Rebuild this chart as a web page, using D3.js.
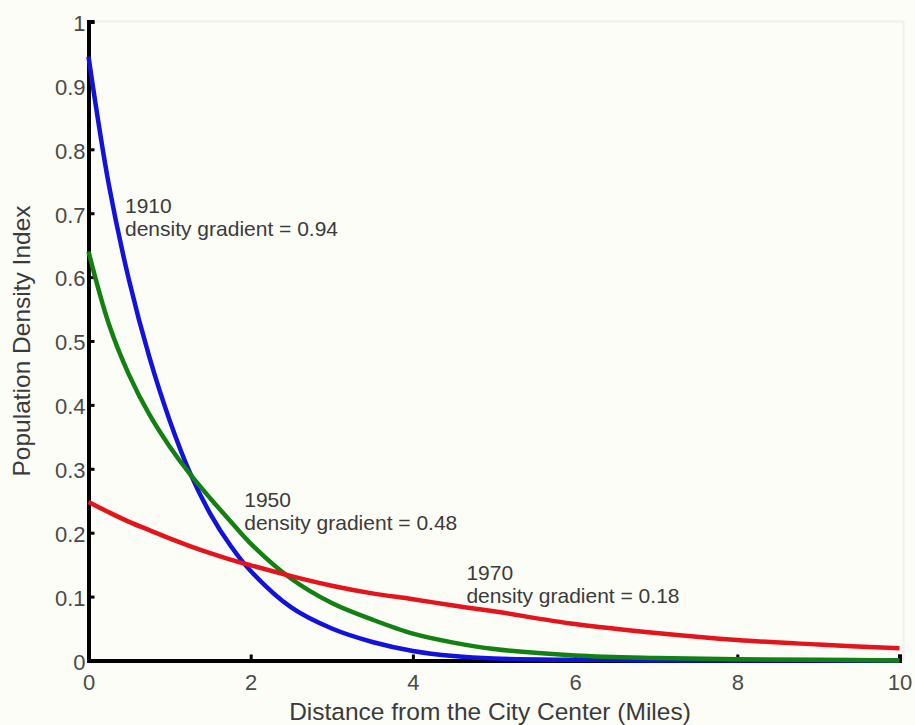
<!DOCTYPE html>
<html>
<head>
<meta charset="utf-8">
<script src="https://cdn.jsdelivr.net/npm/d3@7"></script>
<style>
  body { margin: 0; background: #fdfdf8; }
  text { font-family: "Liberation Sans", Arial, sans-serif; fill: #3a3a3a; }
</style>
</head>
<body>
<script>
const DIST = [0, 0.25, 0.5, 0.75, 1, 1.25, 1.5, 1.75, 2, 2.5, 3, 3.5, 4, 4.5, 5, 6, 7, 8, 9, 10]

// population density index per year
const Y1910 = [0.945, 0.745, 0.595, 0.475, 0.376, 0.294, 0.23, 0.18, 0.14, 0.083, 0.05, 0.029, 0.015, 0.007, 0.003, 0.001, 0, 0, 0, 0]
const Y1950 = [0.64, 0.527, 0.447, 0.385, 0.335, 0.292, 0.254, 0.218, 0.183, 0.128, 0.09, 0.064, 0.042, 0.028, 0.018, 0.008, 0.004, 0.002, 0.001, 0]
const Y1970 = [0.248, 0.232, 0.217, 0.204, 0.191, 0.179, 0.168, 0.158, 0.149, 0.132, 0.117, 0.105, 0.096, 0.086, 0.077, 0.057, 0.043, 0.032, 0.025, 0.019]

const X_TICKS = [0, 2, 4, 6, 8, 10]
const Y_TICKS = [0, 0.1, 0.2, 0.3, 0.4, 0.5, 0.6, 0.7, 0.8, 0.9, 1]

const SERIES = [
  {name: "1910", values: Y1910, color: "#1212dc"},
  {name: "1950", values: Y1950, color: "#138013"},
  {name: "1970", values: Y1970, color: "#e3141c"}
]

const NOTES = [
  {year: "1910", text: "density gradient = 0.94", x: 0.45, y: 0.70},
  {year: "1950", text: "density gradient = 0.48", x: 1.92, y: 0.240},
  {year: "1970", text: "density gradient = 0.18", x: 4.66, y: 0.126}
]

const m = {width: 915, height: 725}
const plot = {left: 88.5, right: 899.5, top: 21.5, bottom: 660.5}

const svg = d3.select("body").append("svg")
    .attr("width", m.width)
    .attr("height", m.height)

svg.append("rect")
    .attr("width", m.width)
    .attr("height", m.height)
    .attr("fill", "#fdfdf8")

const x = d3.scaleLinear().domain([0, 10]).range([plot.left, plot.right])
const y = d3.scaleLinear().domain([0, 1]).range([plot.bottom, plot.top])

// faint box remnants at top and right
svg.append("path")
    .attr("d", `M${plot.left},${plot.top}H${plot.right + 4}V${plot.bottom}`)
    .attr("fill", "none")
    .attr("stroke", "#f0f0ea")
    .attr("stroke-width", 2)

// axes
const xAxis = svg.append("g")
    .attr("transform", `translate(0,${plot.bottom})`)
    .call(d3.axisBottom(x).tickValues(X_TICKS).tickSize(-6).tickPadding(14).tickFormat(d3.format("d")))
const yAxis = svg.append("g")
    .attr("transform", `translate(${plot.left},0)`)
    .call(d3.axisLeft(y).tickValues(Y_TICKS).tickSize(-6).tickPadding(3).tickFormat(d => d === 0 || d === 1 ? d3.format("d")(d) : d3.format(".1f")(d)))

for (const ax of [xAxis, yAxis]) {
  ax.select(".domain").attr("stroke", "#000").attr("stroke-width", 4)
  ax.selectAll(".tick line").attr("stroke", "#000").attr("stroke-width", 3)
  ax.selectAll(".tick text").attr("font-size", 22).style("fill", "#4a4a4a")
}
xAxis.selectAll(".tick text").attr("dy", "0.71em")
yAxis.selectAll(".tick text").attr("dy", "0.4em")

// curves
const line = d3.line()
    .x((d, i) => x(DIST[i]))
    .y(d => y(d))
    .curve(d3.curveCatmullRom.alpha(0.5))

svg.selectAll(".curve")
  .data(SERIES)
  .enter()
  .append("path")
    .attr("class", "curve")
    .attr("d", d => line(d.values))
    .attr("fill", "none")
    .attr("stroke", d => d.color)
    .attr("stroke-width", 4.5)
    .attr("stroke-linejoin", "round")

// annotations
const notes = svg.selectAll(".note")
  .data(NOTES)
  .enter()
  .append("text")
    .attr("class", "note")
    .attr("font-size", 21)
    .attr("x", d => x(d.x))
    .attr("y", d => y(d.y))
notes.append("tspan")
    .attr("x", d => x(d.x))
    .text(d => d.year)
notes.append("tspan")
    .attr("x", d => x(d.x))
    .attr("dy", 23)
    .text(d => d.text)

// axis titles
svg.append("text")
    .attr("x", 490)
    .attr("y", 720)
    .attr("text-anchor", "middle")
    .attr("font-size", 24.5)
    .text("Distance from the City Center (Miles)")

svg.append("text")
    .attr("transform", "translate(30,341) rotate(-90)")
    .attr("text-anchor", "middle")
    .attr("font-size", 24.5)
    .text("Population Density Index")
</script>
</body>
</html>
